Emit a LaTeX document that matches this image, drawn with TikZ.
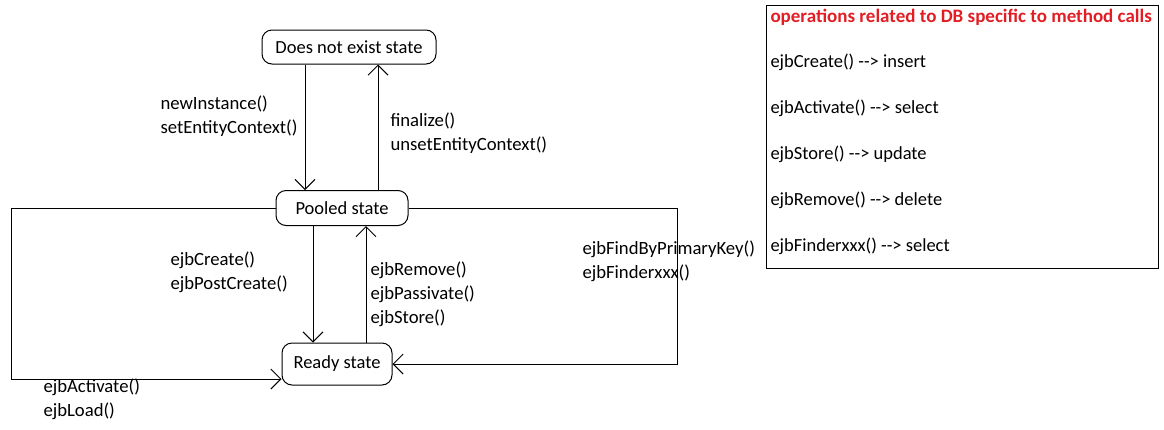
\documentclass[tikz,border=0pt]{standalone}
\usepackage{fontspec}
\setmainfont{Carlito}
\usepackage{tikz}
\usetikzlibrary{arrows.meta,positioning}
\definecolor{opred}{RGB}{226,30,36}

\begin{document}
\begin{tikzpicture}[
  x=1pt, y=-1pt, line width=1pt,
  font=\fontsize{18.5}{22}\selectfont, >={Straight Barb[length=10pt,width=20pt]},
  state/.style={draw, rounded corners=10pt, align=center, inner sep=2pt},
  lbl/.style={anchor=west, align=left, inner sep=0pt, font=\fontsize{18.7}{24}\selectfont},
  opline/.style={anchor=west, inner sep=0pt}]
  \useasboundingbox (0,0) rectangle (1164,429);
  % states
  \node[state, minimum width=174pt, minimum height=34pt] (dne) at (349,47) {Does not exist state};
  \node[state, minimum width=132pt, minimum height=35pt] (pooled) at (342,208) {Pooled state};
  \node[state, minimum width=110pt, minimum height=42pt] (ready) at (337,364) {Ready state};
  % transitions
  \draw[->] ([xshift=-44pt]dne.south) -- ([xshift=-37pt]pooled.north);
  \draw[->] ([xshift=36pt]pooled.north) -- ([xshift=29pt]dne.south);
  \draw[->] ([xshift=-29pt]pooled.south) -- ([xshift=-24pt]ready.north);
  \draw[->] ([xshift=29pt]ready.north) -- ([xshift=24pt]pooled.south);
  \draw[->] (pooled.west) -- ++(-264,0) |- ([yshift=-15pt]ready.west);
  \draw[->] (pooled.east) -- ++(269,0) |- (ready.east);
  \node[lbl] (newinst) at (160,116) {newInstance()\\setEntityContext()};
  \node[lbl] (fin) at (390,133) {finalize()\\unsetEntityContext()};
  \node[lbl] (create) at (170,272) {ejbCreate()\\ejbPostCreate()};
  \node[lbl] (remove) at (370,294) {ejbRemove()\\ejbPassivate()\\ejbStore()};
  \node[lbl] (activ) at (43,399) {ejbActivate()\\ejbLoad()};
  \node[lbl] (find) at (582,261) {ejbFindByPrimaryKey()\\ejbFinderxxx()};
  % DB operations table
  \node[draw, anchor=north west, minimum width=392pt, minimum height=263pt, inner sep=0pt] (ops) at (766,5) {};
  \node[opline, text=opred, font=\fontsize{19}{22}\bfseries] (optitle) at (770,17) {operations related to DB specific to method calls};
  \node[opline] (op1) at (770,62) {ejbCreate() -{}-> insert};
  \node[opline] (op2) at (770,108) {ejbActivate() -{}-> select};
  \node[opline] (op3) at (770,154) {ejbStore() -{}-> update};
  \node[opline] (op4) at (770,200) {ejbRemove() -{}-> delete};
  \node[opline] (op5) at (770,246) {ejbFinderxxx() -{}-> select};
\end{tikzpicture}
\end{document}
